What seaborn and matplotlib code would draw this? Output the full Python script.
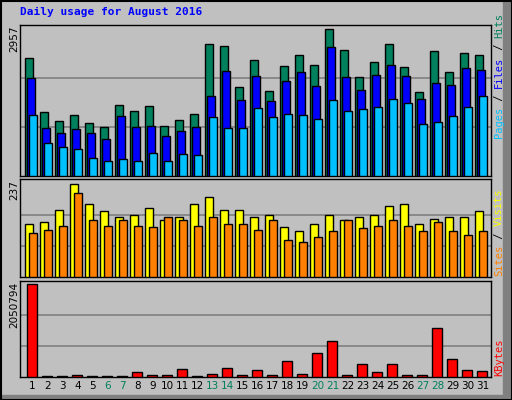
import matplotlib
matplotlib.use("Agg")
import matplotlib.pyplot as plt
import seaborn as sns
import numpy as np
from matplotlib.patches import Rectangle

days = list(range(1, 32))
hits = [2372,1284,1102,1223,1062,981,1425,1304,1404,1001,1122,1243,2654,2614,1788,2332,1707,2211,2433,2231,2957,2533,1989,2292,2654,2191,1687,2513,2090,2473,2433]
files = [1969,961,860,941,860,739,1203,981,1001,800,900,981,1606,2110,1525,2009,1505,1908,2090,1808,2594,1989,1727,2029,2231,2009,1546,1868,1828,2171,2130]
pages = [1223,659,578,538,356,296,336,296,457,296,437,417,1183,961,961,1364,1183,1243,1223,1142,1525,1304,1344,1384,1546,1465,1042,1082,1203,1384,1606]
visits = [136,139,172,237,185,167,154,157,175,146,152,185,205,172,172,152,159,128,116,134,157,146,154,157,180,187,136,149,154,152,169]
sites = [113,121,131,213,144,131,144,131,128,152,144,131,152,136,136,121,144,95,90,103,118,146,126,131,144,131,118,141,116,108,118]
kbytes = [2050794,30000,30000,52000,30000,30000,30000,119000,52000,52000,186000,30000,75000,209000,52000,164000,52000,343000,75000,522000,790000,52000,276000,119000,276000,52000,52000,1081000,388000,164000,142000]
weekend = [6,7,13,14,20,21,27,28]

BG = "#c0c0c0"
fig = plt.figure(figsize=(5.12, 4.0), dpi=100, facecolor=BG)
W, H = 512, 400
fig.patches.append(Rectangle((503/W, 0), 9/W, 1, transform=fig.transFigure, color="#808080", zorder=0))
fig.patches.append(Rectangle((0, 0), 1, 5/H, transform=fig.transFigure, color="#808080", zorder=0))
fig.patches.append(Rectangle((0.5/W, 0.5/H), 511/W, 399/H, transform=fig.transFigure, fill=False, ec="black", lw=1.5, zorder=5))

def mkax(top, bottom):
    return fig.add_axes([20/W, 1-bottom/H, 471/W, (bottom-top)/H], facecolor=BG)

ax1 = mkax(25, 176)
ax2 = mkax(179, 277)
ax3 = mkax(281, 377)
d = np.array(days)

def bars(ax, xs, vals, color, width):
    sns.barplot(x=xs, y=vals, native_scale=True, width=width, color=color,
                edgecolor="black", linewidth=1, saturation=1, ax=ax, zorder=3)

bars(ax1, d-0.233, hits, "#00805c", 0.533)
bars(ax1, d-0.1, files, "#0000ff", 0.533)
bars(ax1, d+0.033, pages, "#00c0ff", 0.533)
bars(ax2, d-0.233, visits, "#ffff00", 0.533)
bars(ax2, d+0.033, sites, "#ff8000", 0.533)
bars(ax3, d-0.056, kbytes, "#ff0000", 0.667)

for ax, mx, f in [(ax1, max(hits), 151/147), (ax2, max(visits), 98/93), (ax3, max(kbytes), 96/93)]:
    ax.set_xlim(0.1667, 31.567)
    ax.set_ylim(0, mx*f)
    for g in (mx/3, 2*mx/3):
        ax.axhline(g, color="#808080", lw=1.2, zorder=1)
    ax.set_xticks([]); ax.set_yticks([])
    ax.set_xlabel(""); ax.set_ylabel("")
    for s in ax.spines.values():
        s.set_color("black"); s.set_linewidth(1)

ax3.set_xticks(days)
ax3.set_xticklabels([str(x) for x in days], fontsize=7.5, family="DejaVu Sans")
ax3.tick_params(axis="x", length=0, pad=3)
for lab, dd in zip(ax3.get_xticklabels(), days):
    lab.set_color("#00805c" if dd in weekend else "black")

fig.text(20/W, 1-12/H, "Daily usage for August 2016", color="#0000ff", family="DejaVu Sans Mono",
         weight="bold", fontsize=8, va="center", ha="left")

for txt, top in [("2957", 26), ("237", 180), ("2050794", 282)]:
    fig.text(14/W, 1-top/H, txt, rotation=90, fontsize=7.5, va="top", ha="center", color="black")

def vlabel(parts, bottom_px, size=7.5):
    cw = 0.602*size*100/72
    y = bottom_px
    for t, c in parts:
        fig.text(499/W, 1-y/H, t, rotation=90, fontsize=size, family="DejaVu Sans Mono",
                 color=c, va="bottom", ha="center")
        y -= cw*len(t)

vlabel([("Pages", "#00c0ff"), (" / ", "black"), ("Files", "#0000ff"), (" / ", "black"), ("Hits", "#00805c")], 138)
vlabel([("Sites", "#ff8000"), (" / ", "black"), ("Visits", "#ffff00")], 276)
vlabel([("KBytes", "#ff0000")], 376)

fig.savefig("out.png", dpi=100, facecolor=BG)
